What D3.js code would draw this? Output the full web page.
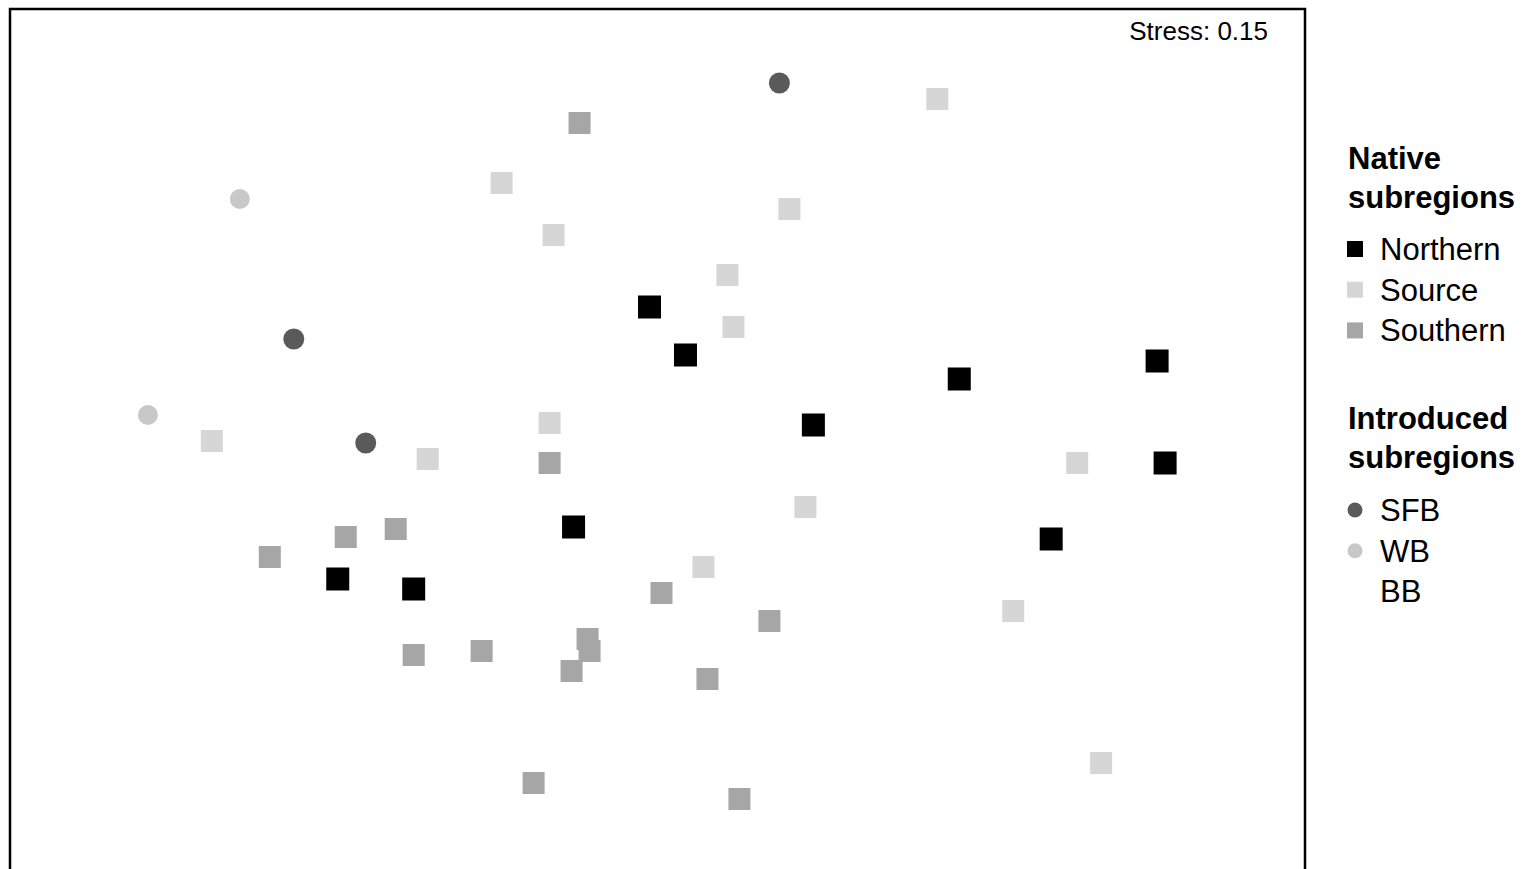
<!DOCTYPE html>
<meta charset="utf-8"/>
<html>
<head>
<script src="https://d3js.org/d3.v7.min.js"></script>
<style>
 * { padding: 0; margin: 0; }
 body { background: #fff; font-family: "Liberation Sans", Arial, Helvetica, sans-serif; }
</style>
</head>
<body>
<div id="nmds"></div>
<script>
 // NMDS ordination scores (arbitrary axis units)
 var northern = [[-0.02, 0.33], [0.07, 0.21], [0.755, 0.15], [1.25, 0.195], [0.39, 0.035],
                 [1.27, -0.06], [-0.21, -0.22], [0.985, -0.25], [-0.80, -0.35], [-0.61, -0.375]];
 var source = [[0.70, 0.85], [-0.39, 0.64], [-0.26, 0.51], [0.33, 0.575], [0.175, 0.41],
               [0.19, 0.28], [-1.115, -0.005], [-0.575, -0.05], [-0.27, 0.04], [1.05, -0.06],
               [0.37, -0.17], [0.89, -0.43], [1.11, -0.81], [0.115, -0.32]];
 var southern = [[-0.195, 0.79], [-0.27, -0.06], [-0.655, -0.225], [-0.78, -0.245], [-0.97, -0.295],
                 [0.01, -0.385], [0.28, -0.455], [-0.175, -0.50], [-0.17, -0.53], [-0.44, -0.53],
                 [-0.61, -0.54], [-0.215, -0.58], [0.125, -0.60], [-0.31, -0.86], [0.205, -0.90]];
 var sfb = [[0.305, 0.89], [-0.91, 0.25], [-0.73, -0.01]];
 var wb = [[-1.045, 0.60], [-1.275, 0.06]];
 var bb = [];

 var nativeLabels = ["Northern", "Source", "Southern"];
 var introducedLabels = ["SFB", "WB", "BB"];
 var stressValue = 0.15;

 var W = 1521, H = 869;
 var frame = {left: 10, top: 9, right: 1305, bottom: 872};

 var svg = d3.select("#nmds").append("svg")
     .attr("width", W).attr("height", H);

 var x = d3.scaleLinear().domain([-1.62, 1.62]).range([frame.left, frame.right]);
 var y = d3.scaleLinear().domain([1.075, -1.075]).range([frame.top, frame.top + 860]);

 var styles = {
   Northern: {shape: "square", fill: "#000", size: 23},
   Source:   {shape: "square", fill: "#d6d6d6", size: 22},
   Southern: {shape: "square", fill: "#a6a6a6", size: 22},
   SFB:      {shape: "circle", fill: "#5a5a5a", size: 21},
   WB:       {shape: "circle", fill: "#c8c8c8", size: 20},
   BB:       {shape: "circle", fill: "none", size: 20}
 };

 svg.append("rect")
     .attr("x", frame.left).attr("y", frame.top)
     .attr("width", frame.right - frame.left)
     .attr("height", frame.bottom - frame.top)
     .attr("fill", "none").attr("stroke", "#000").attr("stroke-width", 2.5);

 function drawMark(sel, key) {
   var s = styles[key];
   if (s.shape === "square") {
     sel.append("rect")
        .attr("x", -s.size / 2).attr("y", -s.size / 2)
        .attr("width", s.size).attr("height", s.size)
        .attr("fill", s.fill);
   } else {
     sel.append("circle").attr("r", s.size / 2).attr("fill", s.fill);
   }
 }

 var groups = [["Source", source], ["Southern", southern], ["WB", wb],
               ["BB", bb], ["SFB", sfb], ["Northern", northern]];
 groups.forEach(function(g) {
   svg.append("g").attr("class", g[0])
      .selectAll("g").data(g[1]).enter().append("g")
      .attr("transform", function(d) { return "translate(" + x(d[0]) + "," + y(d[1]) + ")"; })
      .each(function() { drawMark(d3.select(this), g[0]); });
 });

 svg.append("text")
     .attr("x", 1268).attr("y", 40)
     .attr("text-anchor", "end")
     .style("font-size", "26px")
     .text("Stress: " + stressValue.toFixed(2));

 // legend
 var leg = svg.append("g").attr("transform", "translate(1347,0)");
 function heading(lines, top) {
   lines.forEach(function(t, i) {
     leg.append("text").attr("x", 1).attr("y", top + i * 39)
        .style("font-size", "31px").style("font-weight", "bold").text(t);
   });
 }
 function items(labels, top) {
   labels.forEach(function(lab, i) {
     var g = leg.append("g").attr("transform", "translate(8," + (top + i * 40.7) + ")");
     var s = styles[lab];
     if (s.fill !== "none") {
       g.append(s.shape === "square" ? "rect" : "circle")
        .call(function(m) {
          if (s.shape === "square") m.attr("x", -8).attr("y", -8).attr("width", 16).attr("height", 16);
          else m.attr("r", 7.5);
        })
        .attr("fill", s.fill);
     }
     g.append("text").attr("x", 25).attr("y", 11)
      .style("font-size", "31px").text(lab);
   });
 }
 heading(["Native", "subregions"], 169);
 items(nativeLabels, 249);
 heading(["Introduced", "subregions"], 429);
 items(introducedLabels, 510);
</script>
</body>
</html>
